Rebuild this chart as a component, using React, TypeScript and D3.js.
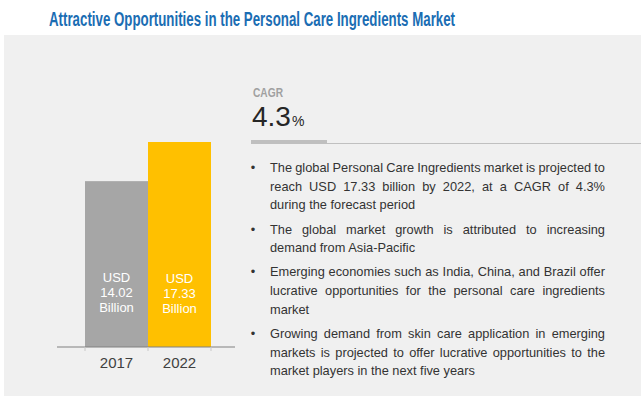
import React, { useEffect, useRef } from "react";
import * as d3 from "d3";

const years = ["2017", "2022"];
const values = [14.02, 17.33];
const barLabels = [
  ["USD", "14.02", "Billion"],
  ["USD", "17.33", "Billion"],
];
const cagrValue = "4.3";
const bullets = [
  [
    "The global Personal Care Ingredients market is projected to",
    "reach USD 17.33 billion by 2022, at a CAGR of 4.3%",
    "during the forecast period",
  ],
  ["The global market growth is attributed to increasing", "demand from Asia-Pacific"],
  [
    "Emerging economies such as India, China, and Brazil offer",
    "lucrative opportunities for the personal care ingredients",
    "market",
  ],
  [
    "Growing demand from skin care application in emerging",
    "markets is projected to offer lucrative opportunities to the",
    "market players in the next five years",
  ],
];

const W = 641;
const H = 396;
const BODY_FONT = "'Liberation Sans', Arial, sans-serif";
const NARROW_FONT = "'Liberation Sans Narrow', 'Liberation Sans', Arial, sans-serif";

export default function App() {
  const ref = useRef<SVGSVGElement>(null);

  useEffect(() => {
    const svg = d3.select(ref.current);
    svg.selectAll("*").remove();

    // background panel
    svg.append("rect").attr("x", 4).attr("y", 35).attr("width", W - 4).attr("height", H - 35).attr("fill", "#f0f0f0");

    // title
    svg
      .append("text")
      .attr("x", 49)
      .attr("y", 26)
      .attr("textLength", 406)
      .attr("lengthAdjust", "spacingAndGlyphs")
      .style("font-family", NARROW_FONT)
      .style("font-weight", "bold")
      .style("font-size", "20px")
      .attr("fill", "#1b6db3")
      .text("Attractive Opportunities in the Personal Care Ingredients Market");

    // bars
    const x = d3.scaleBand<string>().domain(years).range([85, 211]).padding(0);
    const y = d3.scaleLinear().domain([0, 17.33]).range([347, 142]);
    const colors = ["#a6a6a6", "#ffc000"];

    const g = svg.append("g");
    g.selectAll("rect.bar")
      .data(values)
      .enter()
      .append("rect")
      .attr("class", "bar")
      .attr("x", (_, i) => x(years[i])!)
      .attr("y", (d) => y(d))
      .attr("width", x.bandwidth())
      .attr("height", (d) => y(0) - y(d))
      .attr("fill", (_, i) => colors[i]);

    barLabels.forEach((lines, i) => {
      const cx = x(years[i])! + x.bandwidth() / 2;
      lines.forEach((t, j) => {
        g.append("text")
          .attr("x", cx)
          .attr("y", 282 + i * 1 + j * 15)
          .attr("text-anchor", "middle")
          .style("font-family", BODY_FONT)
          .style("font-size", "13px")
          .attr("fill", "#ffffff")
          .text(t);
      });
    });

    // axis
    g.append("line").attr("x1", 57).attr("x2", 235).attr("y1", y(0)).attr("y2", y(0)).attr("stroke", "#808080").attr("stroke-width", 1);
    const edges = [x(years[0])!, x(years[1])!, x(years[1])! + x.bandwidth()];
    edges.forEach((e) => {
      g.append("line").attr("x1", e).attr("x2", e).attr("y1", y(0)).attr("y2", y(0) + 4).attr("stroke", "#c8c8c8");
    });
    years.forEach((yr) => {
      g.append("text")
        .attr("x", x(yr)! + x.bandwidth() / 2)
        .attr("y", 368)
        .attr("text-anchor", "middle")
        .style("font-family", BODY_FONT)
        .style("font-size", "15px")
        .attr("fill", "#404040")
        .text(yr);
    });

    // CAGR block
    svg
      .append("text")
      .attr("x", 253)
      .attr("y", 97)
      .attr("textLength", 30)
      .attr("lengthAdjust", "spacingAndGlyphs")
      .style("font-family", NARROW_FONT)
      .style("font-weight", "bold")
      .style("font-size", "12px")
      .attr("fill", "#a0a0a0")
      .text("CAGR");
    const big = svg
      .append("text")
      .attr("x", 252)
      .attr("y", 126)
      .style("font-family", BODY_FONT)
      .attr("fill", "#262626");
    big.append("tspan").style("font-size", "28px").text(cagrValue);
    big.append("tspan").style("font-size", "14px").attr("dx", 1).text("%");
    svg.append("rect").attr("x", 251).attr("y", 140).attr("width", 76).attr("height", 4).attr("fill", "#bfbfbf");
    svg.append("line").attr("x1", 327).attr("x2", W).attr("y1", 143.5).attr("y2", 143.5).attr("stroke", "#c0c0c0").attr("stroke-width", 1);

    // bullets, justified
    const left = 270;
    const right = 605;
    const lineH = 18.6;
    const paraGap = 24.3;
    let base = 172;
    const tg = svg.append("g").style("font-family", BODY_FONT).style("font-size", "12.8px").attr("fill", "#333333");
    bullets.forEach((para) => {
      tg.append("text").attr("x", 253).attr("y", base).attr("text-anchor", "middle").text("•");
      para.forEach((line, li) => {
        const isLast = li === para.length - 1;
        if (isLast) {
          tg.append("text").attr("x", left).attr("y", base).text(line);
        } else {
          const words = line.split(/\s+/);
          const nodes = words.map((w) => tg.append("text").attr("y", base).text(w));
          const widths = nodes.map((n) => (n.node() as SVGTextElement).getComputedTextLength());
          const total = d3.sum(widths);
          const gap = (right - left - total) / (words.length - 1);
          let cx = left;
          nodes.forEach((n, k) => {
            n.attr("x", cx);
            cx += widths[k] + gap;
          });
        }
        if (!isLast) base += lineH;
      });
      base += paraGap;
    });
  }, []);

  return (
    <div style={{ position: "absolute", left: 0, top: 0 }}>
      <svg ref={ref} width={W} height={H} style={{ display: "block", background: "#ffffff" }}></svg>
    </div>
  );
}
